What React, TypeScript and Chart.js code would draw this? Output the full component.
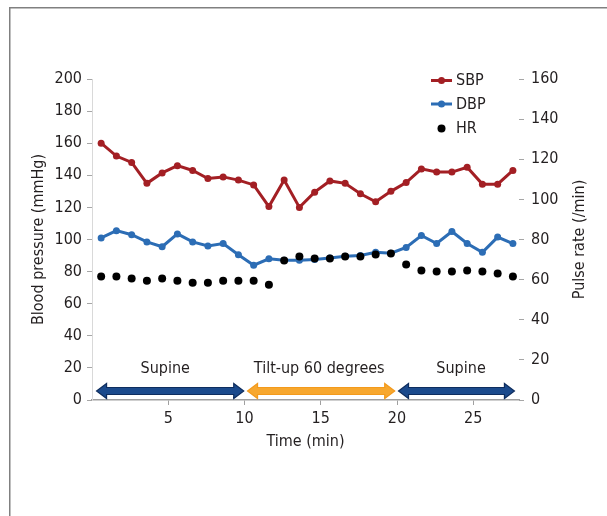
import React, { useEffect, useRef } from 'react';
import { Chart, registerables } from 'chart.js';

Chart.register(...registerables);

// ---- data ----
const times = [0.6, 1.6, 2.6, 3.6, 4.6, 5.6, 6.6, 7.6, 8.6, 9.6, 10.6, 11.6, 12.6, 13.6, 14.6, 15.6, 16.6, 17.6, 18.6, 19.6, 20.6, 21.6, 22.6, 23.6, 24.6, 25.6, 26.6, 27.6];
const sbp = [160, 152, 148, 135, 141.5, 146, 143, 138, 139, 137, 134, 120.5, 137, 120, 129.5, 136.5, 135, 128.5, 123.5, 130, 135.5, 144, 142, 142, 145, 134.5, 134.5, 143];
const dbp = [101, 105.5, 103, 98.5, 95.5, 103.5, 98.5, 96, 97.5, 90.5, 84, 88, 87, 87, 87.5, 88.5, 89.5, 90, 92, 91.5, 95, 102.5, 97.5, 105, 97.5, 92, 101.5, 97.5];
const hr = [61.5, 61.5, 60.5, 59.5, 60.5, 59.5, 58.5, 58.5, 59.5, 59.5, 59.5, 57.5, 69.5, 71.5, 70.5, 70.5, 71.5, 71.5, 72.5, 73, 67.5, 64.5, 64, 64, 64.5, 64, 63, 61.5];
const seriesNames = ['SBP', 'DBP', 'HR'];

const phaseStart = [0.3, 10.2, 20.1];
const phaseEnd = [9.95, 19.85, 27.7];
const phaseLabelX = [4.8, 14.9, 24.2];
const phaseLabels = ['Supine', 'Tilt-up 60 degrees', 'Supine'];

const xLabel = 'Time (min)';
const yLeftLabel = 'Blood pressure (mmHg)';
const yRightLabel = 'Pulse rate (/min)';

// ---- styles ----
const FONT = "'DejaVu Sans Condensed', 'Liberation Sans Narrow', sans-serif";
const FSIZE = 16;
const TXT = '#231f20';
const RED = '#a31f24';
const BLUE = '#2c6db5';
const NAVY = '#1b4a8c';
const NAVY_EDGE = '#0e2d5e';
const ORANGE = '#f7a72e';
const ORANGE_EDGE = '#f39a1c';
const phaseFill = [NAVY, ORANGE, NAVY];
const phaseEdge = [NAVY_EDGE, ORANGE_EDGE, NAVY_EDGE];

function drawArrow(ctx: CanvasRenderingContext2D, x1: number, x2: number, y: number, fill: string, stroke: string) {
  const sh = 3.5, hh = 7.5, hl = 10;
  ctx.beginPath();
  ctx.moveTo(x1, y);
  ctx.lineTo(x1 + hl, y - hh);
  ctx.lineTo(x1 + hl, y - sh);
  ctx.lineTo(x2 - hl, y - sh);
  ctx.lineTo(x2 - hl, y - hh);
  ctx.lineTo(x2, y);
  ctx.lineTo(x2 - hl, y + hh);
  ctx.lineTo(x2 - hl, y + sh);
  ctx.lineTo(x1 + hl, y + sh);
  ctx.lineTo(x1 + hl, y + hh);
  ctx.closePath();
  ctx.fillStyle = fill;
  ctx.fill();
  ctx.strokeStyle = stroke;
  ctx.lineWidth = 1.2;
  ctx.stroke();
}

const overlay = {
  id: 'overlay',
  beforeDraw(chart: any) {
    const ctx = chart.ctx as CanvasRenderingContext2D;
    ctx.save();
    ctx.strokeStyle = '#808080';
    ctx.lineWidth = 1.5;
    ctx.beginPath();
    ctx.moveTo(9.75, chart.height);
    ctx.lineTo(9.75, 7.75);
    ctx.lineTo(chart.width, 7.75);
    ctx.stroke();
    ctx.restore();
  },
  afterDraw(chart: any) {
    const ctx = chart.ctx as CanvasRenderingContext2D;
    const xs = chart.scales.x;
    const area = chart.chartArea;
    ctx.save();
    // phase arrows and labels
    const ay = area.bottom - 9;
    ctx.font = `${FSIZE}px ${FONT}`;
    ctx.textAlign = 'center';
    ctx.textBaseline = 'middle';
    for (let i = 0; i < phaseLabels.length; i++) {
      drawArrow(ctx, xs.getPixelForValue(phaseStart[i]), xs.getPixelForValue(phaseEnd[i]), ay, phaseFill[i], phaseEdge[i]);
      ctx.fillStyle = TXT;
      ctx.fillText(phaseLabels[i], xs.getPixelForValue(phaseLabelX[i]), area.bottom - 31);
    }
    // legend
    const lx = 431, rows = [80.5, 104, 128.5];
    const cols = [RED, BLUE, '#000'];
    for (let i = 0; i < seriesNames.length; i++) {
      const y = rows[i];
      ctx.fillStyle = cols[i];
      ctx.strokeStyle = cols[i];
      if (i < 2) {
        ctx.lineWidth = 3;
        ctx.beginPath();
        ctx.moveTo(lx, y);
        ctx.lineTo(lx + 21, y);
        ctx.stroke();
        ctx.beginPath();
        ctx.arc(lx + 10.5, y, 3.5, 0, Math.PI * 2);
        ctx.fill();
      } else {
        ctx.beginPath();
        ctx.arc(lx + 10.5, y, 4, 0, Math.PI * 2);
        ctx.fill();
      }
      ctx.fillStyle = TXT;
      ctx.textAlign = 'left';
      ctx.fillText(seriesNames[i], lx + 25, y + 0.5);
    }
    // right axis title (reads bottom to top)
    ctx.translate(580, (area.top + area.bottom) / 2);
    ctx.rotate(-Math.PI / 2);
    ctx.textAlign = 'center';
    ctx.fillStyle = TXT;
    ctx.fillText(yRightLabel, 0, 0);
    ctx.restore();
  },
};

export default function App() {
  const ref = useRef<HTMLCanvasElement | null>(null);
  useEffect(() => {
    if (!ref.current) return;
    const font = { family: FONT, size: FSIZE };
    const tickColor = () => '#a6a6a6';
    const chart = new Chart(ref.current, {
      type: 'scatter',
      data: {
        datasets: [
          {
            label: seriesNames[0],
            data: times.map((t, i) => ({ x: t, y: sbp[i] })),
            showLine: true,
            borderColor: RED,
            backgroundColor: RED,
            borderWidth: 3,
            pointRadius: 3.5,
            pointBorderWidth: 0,
            yAxisID: 'y',
            order: 1,
          },
          {
            label: seriesNames[1],
            data: times.map((t, i) => ({ x: t, y: dbp[i] })),
            showLine: true,
            borderColor: BLUE,
            backgroundColor: BLUE,
            borderWidth: 3,
            pointRadius: 3.5,
            pointBorderWidth: 0,
            yAxisID: 'y',
            order: 1,
          },
          {
            label: seriesNames[2],
            data: times.map((t, i) => ({ x: t, y: hr[i] })),
            showLine: false,
            borderColor: '#000',
            backgroundColor: '#000',
            pointRadius: 4,
            pointBorderWidth: 0,
            yAxisID: 'y1',
            order: 0,
          },
        ],
      },
      options: {
        responsive: false,
        animation: false,
        devicePixelRatio: 1,
        layout: { padding: { top: 79, left: 0, right: 0, bottom: 0 } },
        plugins: { legend: { display: false }, tooltip: { enabled: false } },
        scales: {
          x: {
            type: 'linear',
            position: 'bottom',
            min: 0,
            max: 28,
            ticks: {
              stepSize: 5,
              includeBounds: false,
              padding: 4,
              color: TXT,
              font,
              callback: (v: any) => (v === 0 ? '' : String(v)),
            },
            grid: {
              drawOnChartArea: false,
              drawTicks: true,
              tickLength: 5,
              color: (c: any) => (c.tick && c.tick.value === 0 ? 'rgba(0,0,0,0)' : '#a0a0a0'),
            },
            border: { display: true, color: '#a0a0a0', width: 1.5 },
            title: { display: true, text: xLabel, color: TXT, font, padding: { top: 0, bottom: 65 } },
            afterFit: (s: any) => { s.height = 116; },
          },
          y: {
            type: 'linear',
            position: 'left',
            min: 0,
            max: 200,
            ticks: { stepSize: 20, padding: 5, color: TXT, font },
            grid: { drawOnChartArea: false, drawTicks: true, tickLength: 5, color: tickColor },
            border: { display: true, color: '#d9d9d9', width: 1 },
            title: { display: true, text: yLeftLabel, color: TXT, font, padding: { top: 29, bottom: 0 } },
            afterFit: (s: any) => { s.width = 92; },
          },
          y1: {
            type: 'linear',
            position: 'right',
            min: 0,
            max: 160,
            ticks: { stepSize: 20, padding: 7, color: TXT, font },
            grid: { drawOnChartArea: false, drawTicks: true, tickLength: 5, color: tickColor },
            border: { display: false },
            afterFit: (s: any) => { s.width = 88; },
          },
        },
      },
      plugins: [overlay],
    } as any);
    return () => chart.destroy();
  }, []);
  return (
    <div style={{ position: 'absolute', left: 0, top: 0, width: 607, height: 516, background: '#fff' }}>
      <canvas ref={ref} width={607} height={516} style={{ width: 607, height: 516, display: 'block' }} />
    </div>
  );
}
